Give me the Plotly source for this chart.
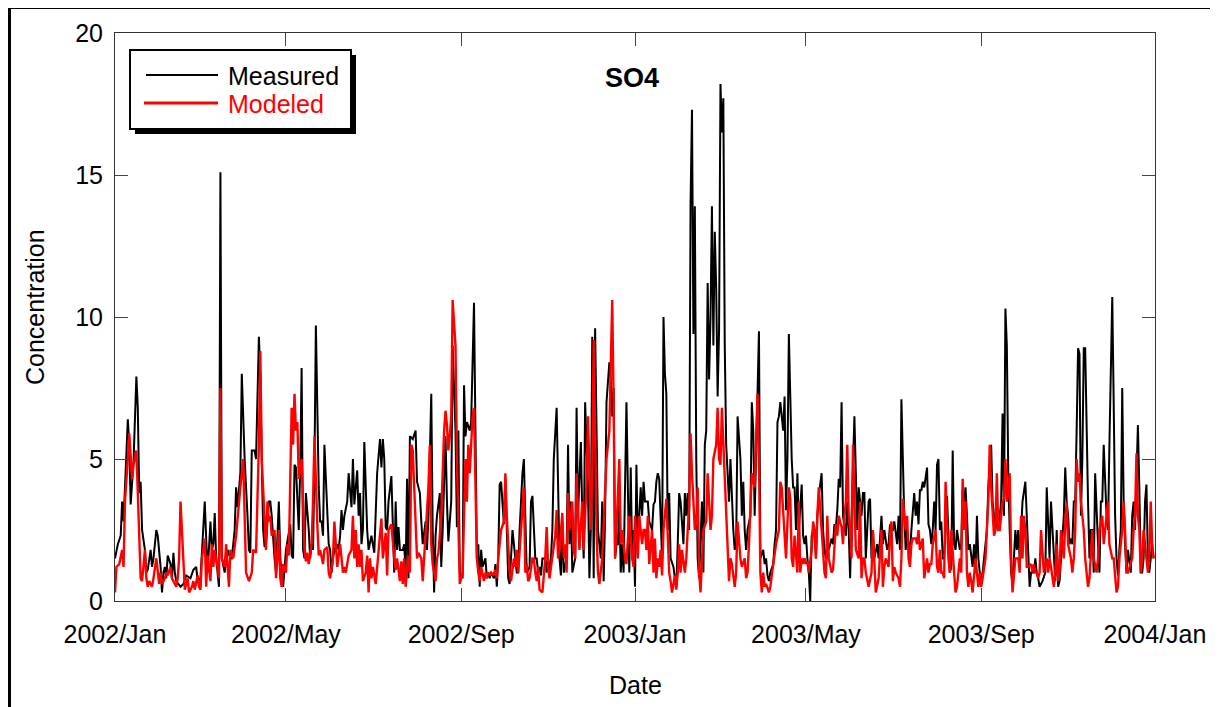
import pandas as pd
import plotly.graph_objects as go

# ---------------- data (day offset from 2002-01-01, concentration) ----------------
measured_days = [
    0, 2, 4, 5, 6, 8, 9, 10, 11, 13, 15, 16, 17, 18, 19, 21, 22, 23, 25, 26,
    27, 29, 30, 32, 33, 34, 35, 36, 37, 39, 40, 41, 42, 43, 46, 48, 50, 53, 55, 57,
    58, 60, 62, 63, 64, 65, 67, 68, 69, 70, 71, 73, 74, 75, 77, 79, 81, 82, 84, 85,
    86, 88, 89, 90,
    91, 93, 94, 95, 96, 98, 99, 101, 102, 103, 104, 105, 106, 108, 109, 110, 111, 112, 113, 115,
    116, 117, 118, 119, 120, 122, 123, 124, 125, 126, 127, 129, 130, 131, 132, 133, 134, 136, 137, 138,
    139, 140, 141, 143, 144, 145, 146, 147, 149, 150, 151, 152, 153, 154, 156, 157, 158, 159, 160, 161,
    163, 164, 166, 167, 168, 170, 171, 172, 173, 174, 175, 177, 178, 179, 180, 181, 182, 184, 186,
    187, 188, 189, 190, 191, 192, 194, 195, 196, 197, 198, 199, 200, 202, 203, 204, 205, 206, 207, 209,
    211, 212, 214, 215, 216, 218, 219, 220, 222, 223, 224, 225, 226, 228, 229, 230, 232, 233, 234, 236,
    237, 239, 240, 241, 242, 244, 245, 246, 247, 249, 250, 252, 253, 254, 255, 256, 257, 258, 260, 261,
    262, 263, 264, 266, 267, 268, 269, 270, 271, 273, 274, 275, 276, 277, 279, 281, 282,
    283, 284, 286, 287, 288, 289, 291, 292, 293, 295, 296, 297, 298, 299, 300, 302, 303, 304, 305, 306,
    307, 308, 310, 311, 312, 313, 314, 315, 317, 318, 319, 320, 321, 323, 324, 325, 327, 328, 329, 330,
    332, 333, 334, 335, 336, 337, 338, 339, 341, 342, 343, 344, 345, 347, 348, 349, 350, 351, 352, 353,
    354, 355, 356, 357, 359, 360, 361, 362, 363, 364, 365, 366, 367, 369, 370, 371, 372, 374,
    375, 377, 378, 379, 380, 381, 382, 384, 385, 386, 387, 388, 389, 390, 392, 393, 394, 395, 396, 397,
    399, 400, 401, 402, 403, 404, 405, 406, 407, 408, 409, 410, 412, 413, 414, 415, 416, 417, 418, 419,
    420, 421, 422, 423, 424, 425, 426, 427, 428, 429, 430, 431, 432, 433, 434, 435, 436, 437, 439, 440,
    441, 442, 443, 444, 446, 447, 448, 449, 450, 451, 452, 453, 455, 456, 457, 458, 459, 460, 462, 463,
    464, 465, 466, 467, 469, 470,
    471, 472, 473, 475, 476, 477, 478, 479, 480, 482, 483, 484, 485, 486, 487, 488, 489, 490, 491, 492,
    493, 494, 496, 497, 498, 499, 500, 501, 503, 504, 505, 506, 507, 508, 509, 510, 511, 513, 514, 515,
    516, 517, 518, 519, 521, 522, 523, 524, 525, 526, 527, 529, 530, 531, 532, 533, 535, 536, 537, 538,
    539, 540, 542, 543, 544, 545, 546, 547, 549, 550, 551, 552, 554, 555, 556, 557, 558, 559, 561, 562,
    563, 564, 565, 566,
    567, 568, 570, 571, 572, 573, 574, 575, 576, 577, 578, 579, 580, 581, 582, 584, 585, 586, 587, 588,
    589, 590, 591, 593, 594, 595, 596, 597, 598, 599, 600, 602, 603, 604, 605, 606, 607, 608, 609, 610,
    611, 612, 613, 615, 616, 617, 618, 619, 620, 622, 623, 624, 625, 626, 627, 628, 629, 630, 631, 632,
    633, 634, 635, 636, 637, 639, 640, 641, 642, 643, 645, 646, 647, 648,
    649, 651, 653, 654, 655, 656, 657, 659, 660, 661, 662, 663, 664, 666, 667, 668, 669, 670, 671, 672,
    673, 674, 675, 676, 677, 678, 679, 680, 681, 682, 683, 684, 685, 686, 687, 688, 689, 690, 691, 692,
    693, 694, 696, 697, 698, 699, 700, 701, 702, 703, 704, 705, 706, 707, 708, 709, 710, 711, 713, 714,
    715, 716, 717, 718, 719, 720, 721, 722, 723, 724, 725, 726, 728, 729,
]
measured_values = [
    1.5, 2.0, 2.3, 3.5, 2.8, 5.0, 6.4, 5.5, 3.4, 4.9, 7.9, 6.8, 3.8, 4.2, 2.5, 1.8, 1.0, 1.1, 1.8, 1.2,
    1.5, 2.5, 2.3, 1.2, 0.3, 1.0, 1.2, 0.8, 1.6, 1.3, 0.8, 1.7, 1.0, 0.7, 0.5, 0.6, 0.9, 0.8, 1.1, 1.2,
    0.7, 0.8, 2.5, 3.5, 2.2, 1.0, 2.8, 1.8, 2.0, 3.1, 1.5, 0.5, 15.1, 1.5, 1.0, 1.8, 1.5, 1.5, 2.5, 4.0,
    3.3, 4.5, 8.0, 6.0,
    5.0, 3.0, 1.8, 1.7, 5.3, 5.3, 5.0, 9.3, 8.0, 5.0, 2.5, 1.9, 2.0, 3.5, 3.5, 3.0, 2.0, 1.5, 1.0, 3.5,
    1.6, 0.8, 0.5, 1.2, 1.8, 2.4, 2.7, 1.6, 1.5, 4.8, 4.7, 2.5, 4.7, 8.2, 1.8, 1.5, 3.8, 2.5, 1.5, 2.0,
    1.8, 4.8, 9.7, 4.0, 2.8, 2.8, 2.3, 5.5, 3.0, 2.0, 1.8, 1.0, 1.5, 1.8, 2.0, 1.8, 2.3, 3.2, 2.5, 3.0,
    3.5, 4.5, 3.3, 5.0, 3.4, 4.6, 3.0, 3.8, 2.0, 2.5, 5.6, 2.5, 1.8, 2.0, 2.3, 2.0, 1.7, 4.5, 5.7,
    4.7, 5.7, 5.0, 2.6, 2.5, 3.5, 4.4, 2.5, 1.0, 3.5, 1.8, 2.6, 1.8, 1.8, 2.0, 1.0, 4.3, 0.8, 5.8, 5.7,
    6.0, 4.2, 3.8, 2.8, 2.0, 2.8, 1.8, 3.0, 7.3, 2.5, 0.3, 2.3, 3.0, 3.8, 1.2, 2.5, 5.8, 3.5, 2.1, 3.5,
    9.0, 6.0, 2.6, 6.0, 1.0, 0.8, 7.6, 5.8, 6.3, 6.0, 6.3, 10.5, 5.0, 1.5, 2.0, 0.5, 1.8, 1.2, 1.5, 0.8,
    1.0, 0.8, 1.0, 0.8, 1.3, 0.5, 1.5, 4.1, 4.2, 2.7, 4.3, 2.0, 0.8, 0.6, 2.5, 1.5, 1.0,
    1.0, 2.5, 4.5, 5.0, 3.0, 1.0, 1.2, 3.5, 3.7, 1.5, 1.5, 1.0, 1.2, 0.9, 1.5, 1.5, 1.0, 1.5, 0.9, 1.5,
    2.5, 5.0, 6.8, 3.5, 1.5, 0.9, 2.8, 1.0, 1.5, 5.5, 2.0, 3.5, 1.0, 1.5, 6.8, 3.0, 5.6, 3.0, 1.5, 7.0,
    4.0, 0.8, 2.5, 9.3, 0.8, 9.6, 5.0, 2.5, 1.5, 3.5, 0.7, 3.0, 7.0, 8.4, 7.8, 6.5, 7.5, 1.5, 2.0, 2.0,
    3.5, 1.0, 2.0, 1.0, 7.0, 3.5, 1.0, 4.7, 1.5, 2.5, 0.5, 4.8, 2.0, 4.0, 3.0, 4.2, 3.5, 3.5,
    2.8, 2.5, 3.4, 3.5, 4.2, 4.5, 4.3, 1.5, 10.0, 8.0, 7.3, 2.5, 3.8, 1.5, 1.2, 0.8, 0.5, 2.0, 3.8, 3.5,
    2.0, 3.8, 3.0, 3.8, 2.5, 14.0, 17.3, 9.4, 13.9, 5.0, 1.5, 0.8, 3.5, 1.0, 5.5, 6.0, 11.2, 7.8, 10.0, 13.9,
    9.0, 13.0, 11.0, 7.2, 9.5, 18.2, 16.5, 17.7, 9.0, 5.5, 4.5, 3.5, 5.0, 3.5, 2.5, 1.8, 2.0, 6.5, 5.0, 3.0,
    4.2, 2.5, 1.8, 2.5, 3.0, 7.0, 6.0, 3.0, 5.5, 7.5, 9.5, 1.5, 1.8, 1.3, 1.5, 0.9, 0.7, 1.0, 1.3, 2.0,
    2.5, 6.3, 6.5, 7.0, 6.0, 7.2,
    3.2, 5.0, 9.4, 5.0, 4.0, 4.0, 2.5, 4.5, 2.5, 4.1, 2.3, 2.0, 2.3, 1.5, 1.0, 0.0, 2.3, 2.5, 2.5, 1.5,
    3.0, 3.7, 4.5, 2.5, 1.8, 1.5, 2.0, 1.8, 2.2, 2.0, 2.7, 2.6, 3.2, 4.3, 4.0, 7.0, 3.0, 2.3, 3.5, 2.5,
    0.8, 3.0, 4.8, 6.5, 2.5, 4.0, 3.5, 3.0, 3.8, 3.8, 1.5, 3.5, 3.6, 1.5, 2.5, 1.5, 2.0, 1.5, 2.2, 3.0,
    2.0, 2.5, 1.8, 2.0, 2.7, 2.5, 2.5, 2.8, 2.0, 3.0, 1.8, 7.1, 3.0, 1.8, 2.5, 2.0, 1.6, 2.5, 3.8, 3.0,
    3.5, 2.7, 3.9, 3.9,
    4.2, 4.0, 4.7, 2.7, 2.5, 2.0, 2.5, 3.5, 2.5, 4.8, 5.0, 2.5, 2.8, 1.5, 1.5, 3.7, 2.0, 1.0, 1.2, 5.3,
    2.0, 1.8, 2.5, 1.8, 2.0, 3.9, 3.5, 4.0, 3.0, 1.8, 2.0, 1.2, 2.0, 1.0, 3.0, 1.5, 1.0, 0.8, 1.0, 1.5,
    2.0, 2.5, 4.0, 5.5, 3.5, 3.0, 2.5, 3.0, 2.5, 3.5, 6.6, 3.0, 10.3, 9.0, 4.5, 2.5, 1.0, 0.6, 1.5, 2.5,
    1.8, 2.5, 1.5, 2.5, 3.5, 4.2, 3.0, 1.5, 0.5, 1.0, 1.0, 1.5, 1.0, 0.8,
    0.5, 0.7, 1.0, 4.0, 3.0, 1.5, 3.5, 1.5, 0.7, 2.5, 0.5, 0.7, 1.5, 3.0, 4.7, 3.5, 3.0, 2.0, 2.2, 2.0,
    3.5, 3.5, 6.0, 8.9, 8.7, 3.0, 5.0, 8.9, 8.9, 5.5, 3.5, 1.5, 2.5, 2.5, 1.0, 4.5, 3.0, 2.0, 1.0, 3.5,
    3.5, 5.5, 3.0, 2.5, 5.5, 8.0, 10.7, 7.0, 3.0, 1.5, 0.9, 1.8, 2.5, 7.5, 3.5, 2.0, 1.0, 1.8, 1.0, 3.0,
    3.5, 2.5, 4.0, 6.2, 4.0, 1.0, 1.0, 1.5, 3.5, 4.1, 1.5, 1.0, 2.0, 1.5,
]

modeled_days = [
    0, 1, 3, 5, 6, 7, 9, 10, 12, 13, 15, 16, 17, 18, 19, 21, 22, 23, 24, 26,
    27, 29, 31, 32, 33, 35, 36, 37, 39, 40, 41, 43, 44, 45, 46, 48, 49, 51, 52, 54,
    55, 56, 58, 59, 60, 61, 63, 64, 65, 67, 68, 69, 70, 72, 73, 74, 75, 77, 78, 80,
    81, 83, 85, 88, 90,
    91, 92, 94, 96, 97, 99, 101, 102, 103, 105, 106, 107, 108, 109, 110, 112, 113, 114, 115, 116,
    117, 118, 120, 121, 122, 124, 125, 126, 127, 128, 129, 131, 132, 133, 134, 135, 136, 138, 139, 140,
    142, 143, 144, 145, 146, 147, 149, 150, 151, 153, 154, 155, 156, 158, 159, 160, 161, 162, 164, 166,
    167, 168, 169, 170, 171, 172, 173, 174, 176, 177, 178, 179, 180, 181, 183, 184, 186,
    187, 188, 190, 191, 192, 194, 195, 196, 197, 198, 200, 201, 202, 203, 204, 206, 207, 208, 209, 211,
    212, 213, 215, 216, 217, 218, 220, 221, 222, 223, 225, 226, 227, 228, 229, 231, 232, 233, 234, 235,
    236, 237, 239, 240, 241, 242, 244, 245, 246, 247, 248, 249, 251, 252, 253, 254, 255, 256, 257, 259,
    260, 261, 262, 263, 264, 266, 267, 268, 269, 271, 273, 274, 275, 277, 278, 279, 280, 281, 282,
    283, 284, 286, 287, 288, 289, 290, 291, 293, 294, 295, 296, 297, 298, 300, 301, 302, 303, 304, 305,
    307, 308, 309, 310, 311, 312, 314, 315, 316, 317, 318, 319, 321, 322, 323, 324, 325, 326, 328, 329,
    330, 331, 332, 334, 335, 336, 337, 338, 339, 340, 342, 343, 344, 345, 347, 348, 349, 350, 351, 352,
    353, 354, 355, 356, 357, 358, 359, 360, 361, 363, 364, 365, 366, 367, 368, 370, 371, 372, 373, 374,
    375, 377, 378, 379, 380, 381, 382, 383, 384, 385, 387, 388, 389, 390, 391, 393, 394, 395, 396, 397,
    398, 400, 401, 402, 403, 404, 405, 407, 408, 409, 410, 411, 412, 413, 415, 416, 417, 418, 419, 420,
    422, 423, 424, 425, 426, 427, 429, 430, 431, 432, 433, 435, 436, 437, 438, 439, 440, 442, 443, 444,
    445, 446, 447, 449, 450, 451, 452, 453, 454, 455, 456, 457, 459, 460, 461, 462, 463, 464, 466, 467,
    468, 470,
    471, 473, 474, 475, 476, 477, 479, 480, 481, 482, 483, 484, 485, 486, 487, 489, 490, 491, 492, 493,
    494, 496, 497, 498, 499, 500, 501, 503, 504, 505, 506, 507, 508, 510, 511, 512, 513, 514, 515, 516,
    517, 518, 519, 520, 522, 523, 524, 525, 526, 527, 529, 530, 531, 532, 533, 534, 536, 537, 538, 539,
    540, 541, 543, 544, 545, 546, 547, 548, 550, 551, 552, 553, 555, 556, 557, 558, 559, 560, 562, 563,
    564, 565, 566,
    567, 568, 570, 571, 572, 573, 574, 576, 577, 578, 579, 580, 581, 582, 583, 585, 586, 587, 588, 589,
    590, 591, 593, 594, 595, 596, 597, 598, 599, 600, 601, 602, 604, 605, 606, 607, 608, 609, 611, 612,
    613, 614, 615, 617, 618, 619, 620, 621, 623, 624, 625, 626, 627, 628, 629, 630, 631, 632, 634, 635,
    636, 637, 638, 639, 640, 641, 643, 644, 645, 646, 647, 648,
    649, 650, 652, 653, 654, 655, 656, 657, 659, 660, 661, 662, 663, 664, 666, 667, 668, 669, 671, 672,
    673, 674, 675, 676, 677, 678, 680, 681, 682, 683, 684, 686, 687, 688, 689, 690, 691, 693, 694, 695,
    696, 697, 698, 700, 701, 702, 703, 704, 705, 707, 708, 709, 710, 711, 712, 714, 715, 716, 717, 718,
    719, 720, 721, 722, 723, 725, 726, 727, 728, 729,
]
modeled_values = [
    0.3, 1.2, 1.3, 1.8, 1.2, 3.5, 5.0, 5.9, 4.3, 4.8, 5.3, 3.5, 2.0, 0.8, 0.7, 1.8, 0.8, 0.5, 0.7, 0.5,
    0.8, 1.5, 0.6, 1.0, 0.6, 0.8, 1.0, 0.9, 1.2, 0.8, 0.7, 0.5, 0.8, 1.5, 3.5, 1.5, 0.4, 0.8, 0.3, 0.5,
    0.7, 0.4, 0.9, 0.5, 0.4, 1.5, 2.2, 0.5, 1.6, 0.7, 2.0, 1.2, 1.8, 1.2, 0.8, 7.5, 1.5, 1.2, 2.0, 0.5,
    1.8, 1.5, 2.3, 4.0, 5.0,
    3.0, 1.0, 0.7, 1.0, 1.8, 1.7, 5.5, 8.8, 5.0, 2.5, 1.8, 3.5, 2.8, 3.0, 2.3, 2.5, 0.8, 1.5, 2.5, 0.8,
    0.5, 1.3, 1.0, 2.0, 1.6, 6.8, 5.5, 7.3, 6.0, 6.3, 4.3, 5.0, 3.6, 1.8, 1.4, 1.7, 1.3, 2.0, 3.5, 5.8,
    2.7, 1.6, 1.8, 1.5, 1.3, 1.8, 1.9, 1.0, 0.8, 1.5, 2.8, 2.0, 1.2, 2.0, 1.5, 1.0, 1.2, 1.0, 1.6, 1.8,
    3.0, 1.5, 2.5, 1.2, 2.0, 1.2, 1.8, 0.7, 1.0, 1.6, 0.3, 1.5, 0.8, 1.2, 0.6, 1.2, 2.5,
    2.9, 1.5, 2.4, 0.9, 2.5, 2.7, 2.0, 1.5, 1.1, 1.5, 0.7, 1.4, 0.6, 1.5, 0.5, 1.6, 1.0, 5.5, 5.3, 3.0,
    1.5, 1.7, 1.5, 0.7, 1.5, 2.5, 4.0, 5.5, 2.0, 1.3, 0.7, 1.5, 1.7, 2.3, 3.0, 6.0, 6.7, 6.2, 5.3, 5.8,
    6.5, 10.6, 9.0, 5.0, 3.0, 0.6, 1.0, 3.3, 5.0, 3.5, 5.5, 4.5, 6.5, 6.8, 4.0, 1.5, 1.0, 0.7, 1.2, 0.7,
    1.0, 0.8, 1.0, 0.9, 1.0, 0.9, 1.1, 0.8, 1.5, 2.5, 2.8, 4.5, 3.0, 1.0, 0.7, 1.2, 1.5, 1.2, 1.8,
    1.0, 1.8, 3.5, 4.0, 1.0, 1.3, 0.7, 0.8, 1.5, 1.5, 1.0, 0.7, 1.2, 0.4, 0.3, 1.0, 1.5, 2.6, 1.2, 0.8,
    1.5, 2.0, 2.3, 3.2, 1.5, 1.8, 3.1, 1.5, 2.0, 1.0, 3.8, 2.5, 3.5, 1.8, 1.5, 4.5, 3.0, 1.8, 3.5, 1.8,
    3.0, 4.2, 6.5, 2.5, 4.5, 9.2, 6.0, 2.5, 1.0, 0.6, 1.5, 2.5, 4.0, 5.0, 6.0, 9.0, 10.6, 7.0, 1.5, 2.5,
    4.0, 5.0, 2.0, 2.5, 2.0, 1.5, 1.3, 2.0, 3.0, 1.5, 1.2, 3.0, 2.2, 1.5, 3.0, 2.0, 2.5, 2.5, 1.8, 3.0,
    1.3, 2.5, 1.0, 2.2, 0.8, 1.5, 1.2, 1.8, 0.9, 2.5, 3.6, 2.5, 1.0, 0.7, 0.3, 0.9, 0.4, 1.0, 2.0, 1.0,
    1.8, 1.0, 1.5, 2.5, 3.3, 5.9, 4.5, 2.5, 2.8, 4.0, 1.0, 0.3, 1.5, 2.5, 2.8, 4.5, 3.5, 2.5, 3.0, 5.0,
    5.5, 6.8, 5.0, 4.8, 6.8, 5.5, 3.0, 1.5, 0.7, 1.5, 1.3, 0.5, 1.0, 2.8, 2.0, 1.5, 1.2, 1.5, 0.8, 1.0,
    2.0, 3.5, 4.5, 4.0, 5.5, 7.3, 5.0, 1.0, 0.3, 1.0, 0.5, 0.6, 0.3, 0.5, 0.9, 1.3, 1.5, 2.0, 2.5, 4.2,
    4.0, 2.0,
    1.5, 4.0, 3.6, 1.5, 1.2, 2.3, 1.0, 3.5, 1.0, 1.5, 1.3, 1.5, 1.3, 1.4, 1.0, 1.8, 2.8, 2.5, 1.5, 3.0,
    4.0, 2.5, 1.5, 1.0, 0.8, 3.0, 1.5, 1.0, 1.1, 1.8, 2.7, 2.3, 3.0, 2.6, 2.0, 3.0, 3.5, 5.5, 3.0, 2.5,
    1.5, 5.5, 4.0, 1.8, 1.5, 3.5, 0.8, 1.5, 1.5, 1.0, 0.5, 0.8, 1.0, 2.5, 1.5, 0.3, 0.8, 1.5, 2.5, 0.5,
    1.2, 1.5, 1.2, 2.3, 2.8, 0.7, 1.2, 1.0, 0.8, 0.5, 1.5, 3.6, 2.5, 3.0, 1.5, 1.2, 2.0, 2.2, 2.2, 2.0,
    2.5, 1.8, 2.0,
    2.2, 0.8, 1.5, 1.0, 1.3, 1.3, 2.0, 2.5, 1.2, 1.0, 1.8, 1.0, 1.0, 0.8, 4.2, 1.5, 1.0, 2.5, 1.5, 1.0,
    0.3, 0.5, 1.5, 1.0, 4.3, 2.5, 3.5, 1.0, 0.5, 1.0, 0.7, 0.3, 1.5, 1.0, 0.5, 1.0, 0.5, 0.8, 1.5, 2.5,
    3.5, 5.5, 4.0, 2.3, 2.5, 4.5, 2.5, 2.5, 3.5, 3.6, 5.0, 3.5, 3.8, 4.5, 1.5, 0.3, 1.0, 1.5, 1.5, 1.0,
    3.0, 1.5, 3.0, 2.5, 1.2, 1.2, 1.3, 1.0, 1.3, 1.0, 1.0, 0.8,
    1.0, 2.5, 1.0, 1.3, 1.5, 1.0, 1.5, 1.2, 0.5, 1.0, 2.0, 0.7, 1.0, 2.5, 1.5, 2.8, 3.5, 2.0, 1.5, 1.0,
    1.5, 2.5, 5.0, 4.2, 4.5, 3.5, 2.5, 1.5, 1.0, 0.5, 0.8, 2.5, 1.5, 1.3, 1.0, 1.5, 2.5, 3.0, 2.0, 2.5,
    3.0, 3.5, 2.0, 1.5, 1.5, 0.8, 0.3, 0.5, 1.5, 2.5, 3.5, 2.5, 1.0, 1.0, 1.2, 1.5, 2.5, 3.0, 5.2, 3.0,
    2.5, 1.0, 1.5, 2.5, 2.0, 1.0, 1.5, 3.5, 2.0, 1.5,
]

tick_dates = ["2002-01-01", "2002-05-01", "2002-09-01", "2003-01-01",
              "2003-05-01", "2003-09-01", "2004-01-01"]
tick_labels = ["2002/Jan", "2002/May", "2002/Sep", "2003/Jan",
               "2003/May", "2003/Sep", "2004/Jan"]
y_ticks = [0, 5, 10, 15, 20]

series_names = ["Measured", "Modeled"]
series_colors = ["#000000", "#ff0000"]

assert len(measured_days) == len(measured_values), (len(measured_days), len(measured_values))
assert len(modeled_days) == len(modeled_values), (len(modeled_days), len(modeled_values))

base = pd.Timestamp("2002-01-01")
meas_x = base + pd.to_timedelta(measured_days, unit="D")
mod_x = base + pd.to_timedelta(modeled_days, unit="D")

FONT = "Liberation Sans, Arial, Helvetica, sans-serif"

fig = go.Figure()
fig.add_trace(go.Scatter(x=meas_x, y=measured_values, mode="lines", name=series_names[0],
                         line=dict(color=series_colors[0], width=2), showlegend=False))
fig.add_trace(go.Scatter(x=mod_x, y=modeled_values, mode="lines", name=series_names[1],
                         line=dict(color=series_colors[1], width=2.4), showlegend=False))

# target plot area on screen (pixels): left 115, right 1155, top 33, bottom 601
# the page adds an 8 px body offset, so the figure margins are reduced by it
OFF = 8
L, R, T, B = 115, 1155, 33, 601
W, H = R - L, B - T


def px(xp):
    return (xp - L) / W


def py(yp):
    return (B - yp) / H


shapes = []
# outer frame (only left and top visible in the picture)
shapes.append(dict(type="rect", xref="paper", yref="paper",
                   x0=px(9.5), y0=py(760), x1=px(1260), y1=py(7.5),
                   line=dict(color="black", width=3), fillcolor="rgba(0,0,0,0)", layer="above"))
# legend shadow and box
shapes.append(dict(type="rect", xref="paper", yref="paper",
                   x0=px(135), y0=py(134), x1=px(356), y1=py(55),
                   line=dict(color="black", width=0), fillcolor="black", layer="above"))
shapes.append(dict(type="rect", xref="paper", yref="paper",
                   x0=px(130), y0=py(129), x1=px(351), y1=py(50),
                   line=dict(color="black", width=2), fillcolor="white", layer="above"))
# legend samples
shapes.append(dict(type="line", xref="paper", yref="paper",
                   x0=px(146), y0=py(75), x1=px(218), y1=py(75),
                   line=dict(color=series_colors[0], width=2), layer="above"))
shapes.append(dict(type="line", xref="paper", yref="paper",
                   x0=px(144), y0=py(103), x1=px(218), y1=py(103),
                   line=dict(color=series_colors[1], width=3), layer="above"))

annotations = [
    dict(text=series_names[0], xref="paper", yref="paper", x=px(226), y=py(76),
         xanchor="left", yanchor="middle", showarrow=False,
         font=dict(family=FONT, size=25, color=series_colors[0])),
    dict(text=series_names[1], xref="paper", yref="paper", x=px(226), y=py(104),
         xanchor="left", yanchor="middle", showarrow=False,
         font=dict(family=FONT, size=25, color=series_colors[1])),
    dict(text="<b>SO4</b>", xref="paper", yref="paper", x=px(632), y=py(78),
         xanchor="center", yanchor="middle", showarrow=False,
         font=dict(family=FONT, size=27, color="black")),
    dict(text="Concentration", xref="paper", yref="paper", x=px(35), y=py(307),
         xanchor="center", yanchor="middle", showarrow=False, textangle=-90,
         font=dict(family=FONT, size=25, color="black")),
    dict(text="Date", xref="paper", yref="paper", x=px(635), y=py(685),
         xanchor="center", yanchor="middle", showarrow=False,
         font=dict(family=FONT, size=25, color="black")),
]

fig.update_layout(
    width=1218, height=707,
    margin=dict(l=L - OFF, r=1218 - (R - OFF), t=T - OFF, b=707 - (B - OFF), autoexpand=False),
    paper_bgcolor="white", plot_bgcolor="white",
    shapes=shapes, annotations=annotations,
    font=dict(family=FONT, size=25, color="black"),
)
fig.update_xaxes(
    type="date", range=["2002-01-01", "2004-01-01"],
    tickmode="array", tickvals=tick_dates, ticktext=tick_labels,
    ticks="inside", ticklen=13, tickwidth=1, tickcolor="#444",
    showline=True, linecolor="#333", linewidth=1, mirror="ticks",
    showgrid=False, zeroline=False, ticklabelstandoff=11,
    tickfont=dict(family=FONT, size=25, color="black"),
)
fig.update_yaxes(
    range=[0, 20], tickmode="array", tickvals=y_ticks,
    ticks="inside", ticklen=13, tickwidth=1, tickcolor="#444",
    showline=True, linecolor="#333", linewidth=1, mirror="ticks",
    showgrid=False, zeroline=False, ticklabelstandoff=6,
    tickfont=dict(family=FONT, size=25, color="black"),
)

fig.write_html("out.html")
